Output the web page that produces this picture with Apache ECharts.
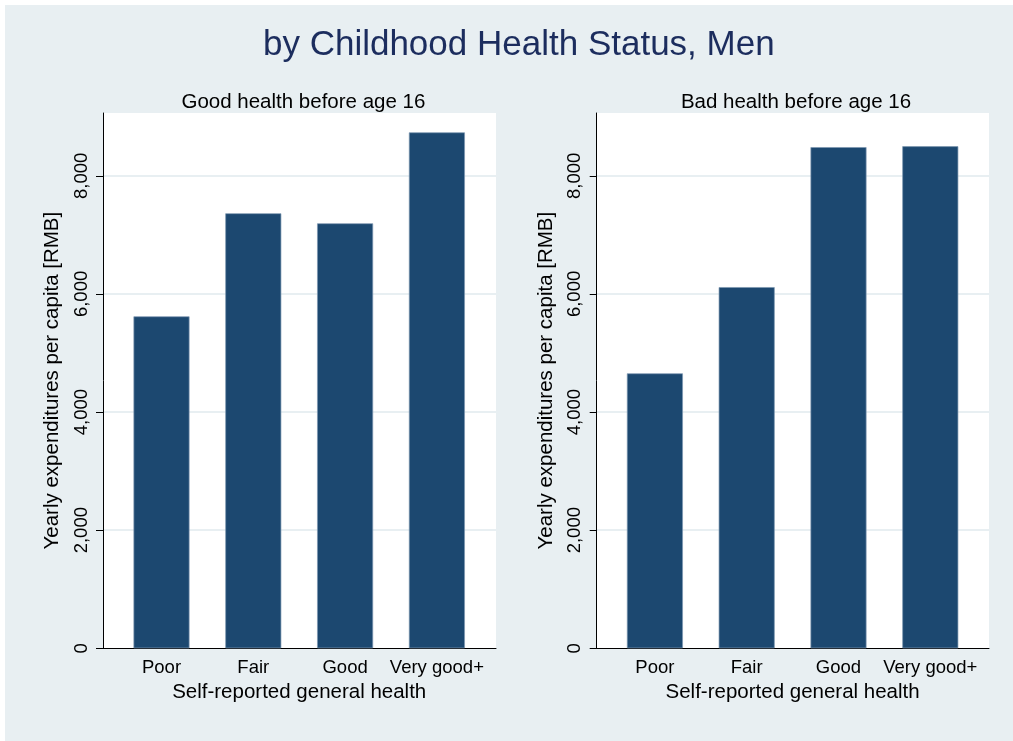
<!DOCTYPE html>
<html>
<head>
<meta charset="utf-8">
<script src="https://cdn.jsdelivr.net/npm/echarts@6/dist/echarts.min.js"></script>
<style>
html,body{margin:0;padding:0;background:#ffffff;width:1013px;height:741px;overflow:hidden;}
#chart{position:absolute;left:5px;top:5px;width:1008px;height:736px;}
</style>
</head>
<body>
<div id="chart"></div>
<script>
// ---- data ----
const categories = ['Poor', 'Fair', 'Good', 'Very good+'];
const goodHealthValues = [5620, 7365, 7195, 8735];
const badHealthValues = [4655, 6115, 8485, 8500];
const yTicks = [0, 2000, 4000, 6000, 8000];
const mainTitle = 'by Childhood Health Status, Men';
const panelTitles = ['Good health before age 16', 'Bad health before age 16'];
const yAxisTitle = 'Yearly expenditures per capita [RMB]';
const xAxisTitle = 'Self-reported general health';

const FONT = "'Liberation Sans', Arial, sans-serif";
const BG = '#e8eff2';
const BAR = '#1c4870';
const Y_MAX = 9063;

const chart = echarts.init(document.getElementById('chart'));

const fmt = v => String(v).replace(/\B(?=(\d{3})+(?!\d))/g, ',');

const panels = [
  {outerLeft: 98, outerWidth: 393, innerLeft: 110.6, innerWidth: 367.2, data: goodHealthValues, title: panelTitles[0], titleX: 293.4},
  {outerLeft: 591.7, outerWidth: 392.3, innerLeft: 604.0, innerWidth: 367.2, data: badHealthValues, title: panelTitles[1], titleX: 786}
];
const TOP = 108, HEIGHT = 535.3;

const grids = [], xAxes = [], yAxes = [], series = [], titles = [];
titles.push({
  text: mainTitle, left: 508.8, top: 18, textAlign: 'center',
  textStyle: {fontFamily: FONT, fontSize: 35, fontWeight: 'normal', color: '#1c2d5e'}
});
panels.forEach((p, i) => {
  const gOuter = grids.length;
  grids.push({left: p.outerLeft, top: TOP, width: p.outerWidth, height: HEIGHT, show: true, backgroundColor: '#ffffff', borderWidth: 0, containLabel: false});
  grids.push({left: p.innerLeft, top: TOP, width: p.innerWidth, height: HEIGHT, show: false, containLabel: false});
  // outer axes
  xAxes.push({
    gridIndex: gOuter, type: 'value', min: 0, max: 1,
    axisLine: {show: true, lineStyle: {color: '#000', width: 1}},
    axisTick: {show: false}, axisLabel: {show: false}, splitLine: {show: false}
  });
  yAxes.push({
    gridIndex: gOuter, type: 'value', min: 0, max: Y_MAX, interval: 2000,
    name: yAxisTitle, nameLocation: 'middle', nameGap: 40, nameRotate: 90,
    nameTextStyle: {fontFamily: FONT, fontSize: 20.5, color: '#000'},
    axisLine: {show: true, lineStyle: {color: '#000', width: 1}},
    axisTick: {show: true, length: 7, lineStyle: {color: '#000'}, customValues: yTicks},
    axisLabel: {show: true, rotate: 90, margin: 12, fontFamily: FONT, fontSize: 18.5, color: '#000', customValues: yTicks, formatter: v => fmt(v)},
    splitLine: {show: true, lineStyle: {color: BG, width: 2}}
  });
  // inner axes
  xAxes.push({
    gridIndex: gOuter + 1, type: 'category', data: categories,
    name: xAxisTitle, nameLocation: 'middle', nameGap: 33,
    nameTextStyle: {fontFamily: FONT, fontSize: 20.5, color: '#000'},
    axisLine: {show: false}, axisTick: {show: false},
    axisLabel: {show: true, margin: 10, fontFamily: FONT, fontSize: 18.5, color: '#000', interval: 0}
  });
  yAxes.push({gridIndex: gOuter + 1, type: 'value', min: 0, max: Y_MAX, show: false, splitLine: {show: false}});
  series.push({
    type: 'bar', xAxisIndex: gOuter + 1, yAxisIndex: gOuter + 1,
    data: p.data, barWidth: 56,
    itemStyle: {color: BAR, borderColor: '#7d96b0', borderWidth: 0.7},
    emphasis: {disabled: true}
  });
  titles.push({
    text: p.title, left: p.titleX, top: 82, textAlign: 'center',
    textStyle: {fontFamily: FONT, fontSize: 20.5, fontWeight: 'normal', color: '#000'}
  });
});

chart.setOption({
  backgroundColor: BG,
  animation: false,
  title: titles,
  grid: grids,
  xAxis: xAxes,
  yAxis: yAxes,
  series: series
});
</script>
</body>
</html>
